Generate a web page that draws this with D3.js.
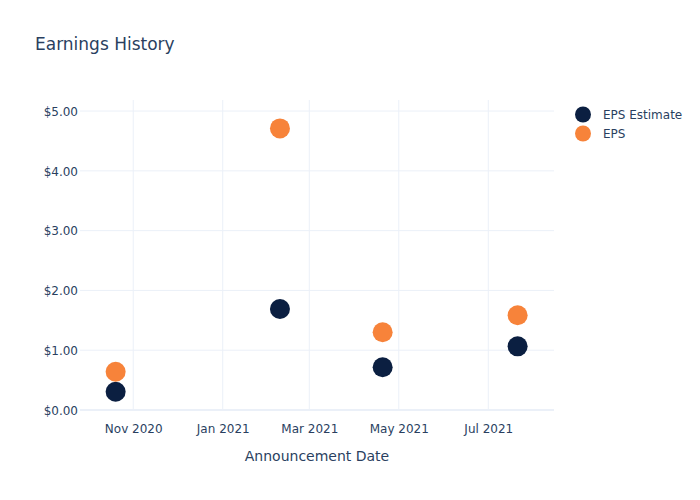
<!DOCTYPE html>
<html>
<head>
<meta charset="utf-8">
<script src="https://cdn.jsdelivr.net/npm/d3@7"></script>
<style>
  html, body { margin: 0; padding: 0; background: #fff; }
  svg { display: block; font-family: "DejaVu Sans", Verdana, sans-serif; }
</style>
</head>
<body>
<svg id="chart" width="700" height="500"></svg>
<script>
// ---- data ----
const dates = ["2020-10-20", "2021-02-09", "2021-04-20", "2021-07-21"];
const epsEstimate = [0.305, 1.69, 0.715, 1.065];
const eps = [0.64, 4.71, 1.30, 1.585];
const seriesNames = ["EPS Estimate", "EPS"];
const seriesColors = ["#0b1f41", "#f7833a"];
const yTicks = [0, 1, 2, 3, 4, 5];
const xTicks = ["2020-11-01", "2021-01-01", "2021-03-01", "2021-05-01", "2021-07-01"];

const parse = d3.timeParse("%Y-%m-%d");
const svg = d3.select("#chart");
const W = 700, H = 500;
const m = { l: 80, r: 146, t: 100, b: 90 };
const pw = W - m.l - m.r, ph = H - m.t - m.b;
const grid = "#ebf0f8", textColor = "#2a3f5f";

const x = d3.scaleTime()
  .domain([new Date(2020, 8, 25, 17), new Date(2021, 7, 14, 19)])
  .range([m.l, m.l + pw]);
const y = d3.scaleLinear().domain([0, 5.185]).range([m.t + ph, m.t]);

// grid lines
const g = svg.append("g");
g.selectAll("line.vx").data(xTicks.map(parse)).join("line")
  .attr("x1", d => x(d)).attr("x2", d => x(d))
  .attr("y1", m.t).attr("y2", m.t + ph)
  .attr("stroke", grid).attr("stroke-width", 1);
g.selectAll("line.hy").data(yTicks.filter(v => v !== 0)).join("line")
  .attr("x1", m.l).attr("x2", m.l + pw)
  .attr("y1", d => y(d)).attr("y2", d => y(d))
  .attr("stroke", grid).attr("stroke-width", 1);
// zero line
g.append("line")
  .attr("x1", m.l).attr("x2", m.l + pw)
  .attr("y1", y(0)).attr("y2", y(0))
  .attr("stroke", grid).attr("stroke-width", 2);

// axes via d3 axis generators
const xAxis = d3.axisBottom(x).tickValues(xTicks.map(parse))
  .tickFormat(d3.timeFormat("%b %Y")).tickSize(0).tickPadding(0);
const xg = svg.append("g").attr("transform", `translate(0,${m.t + ph})`).call(xAxis);
xg.select(".domain").remove();
xg.selectAll("text").attr("fill", textColor).attr("font-size", 12)
  .attr("font-family", "DejaVu Sans").attr("dy", null).attr("y", 23);

const yAxis = d3.axisLeft(y).tickValues(yTicks)
  .tickFormat(d => "$" + d3.format(".2f")(d)).tickSize(0).tickPadding(2);
const yg = svg.append("g").attr("transform", `translate(${m.l},0)`).call(yAxis);
yg.select(".domain").remove();
yg.selectAll("text").attr("fill", textColor).attr("font-size", 12)
  .attr("font-family", "DejaVu Sans").attr("dy", "0.35em");

// axis title
svg.append("text").attr("x", m.l + pw / 2).attr("y", 461)
  .attr("text-anchor", "middle").attr("fill", textColor).attr("font-size", 14)
  .text("Announcement Date");

// title
svg.append("text").attr("x", 35).attr("y", 50)
  .attr("fill", textColor).attr("font-size", 17).text("Earnings History");

// points
const series = [epsEstimate, eps];
series.forEach((vals, si) => {
  svg.append("g").selectAll("circle").data(vals).join("circle")
    .attr("cx", (d, i) => x(parse(dates[i])))
    .attr("cy", d => y(d))
    .attr("r", 10)
    .attr("fill", seriesColors[si]);
});

// legend
const lg = svg.append("g");
seriesNames.forEach((name, i) => {
  const yy = 114.5 + i * 19;
  lg.append("circle").attr("cx", 583).attr("cy", yy).attr("r", 8).attr("fill", seriesColors[i]);
  lg.append("text").attr("x", 603).attr("y", yy).attr("dy", "0.35em")
    .attr("fill", textColor).attr("font-size", 12).text(name);
});
</script>
</body>
</html>
